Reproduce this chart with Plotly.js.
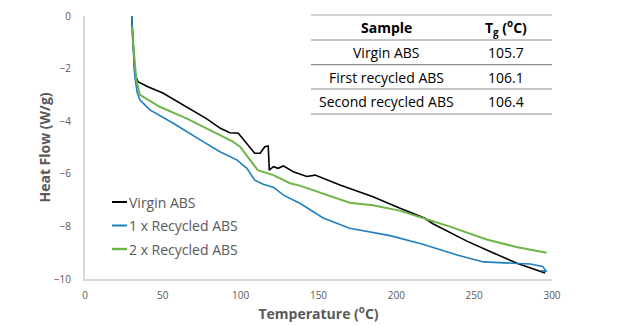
<!DOCTYPE html>
<html>
<head>
<meta charset="utf-8">
<script src="https://cdn.plot.ly/plotly-3.0.1.min.js"></script>
<style>html,body{margin:0;padding:0;background:#fff;}#chart{width:621px;height:326px;}</style>
</head>
<body>
<div id="chart"></div>
<script>
// Temperature (°C) and heat flow (W/g)
const virginT  = [30, 31, 32, 34, 40, 50, 65, 78, 87, 93, 98.5, 104, 109, 112.5, 115.5, 117.7, 118.4, 121, 124, 127.4, 133.8, 142.5, 147.8, 163.8, 170, 185, 202, 218, 223.5, 245, 262, 277.5, 295.5];
const virginHF = [0, -1.3, -2.2, -2.5, -2.68, -2.93, -3.45, -3.9, -4.27, -4.44, -4.46, -4.85, -5.22, -5.22, -4.97, -4.94, -5.86, -5.73, -5.79, -5.7, -5.92, -6.1, -6.05, -6.43, -6.55, -6.87, -7.3, -7.68, -7.9, -8.55, -9.0, -9.4, -9.77];

const rec1T  = [30, 31, 32, 33.5, 35.3, 41.7, 56.7, 74, 86.7, 97.5, 104, 109, 114.5, 121, 127.5, 138, 153, 170, 196, 217, 239, 256, 271, 286, 294, 296.5, 293];
const rec1HF = [0, -1.3, -2.3, -2.9, -3.2, -3.57, -4.08, -4.71, -5.16, -5.47, -5.79, -6.24, -6.4, -6.51, -6.81, -7.12, -7.68, -8.07, -8.35, -8.68, -9.09, -9.35, -9.39, -9.43, -9.52, -9.72, -9.68];

const rec2T  = [30, 31.5, 33, 35.3, 48, 65.5, 82, 95, 99.6, 106, 111, 121, 131.7, 138, 151, 159, 170, 185, 202, 217, 234, 258, 277, 296.5];
const rec2HF = [-0.4, -1.5, -2.43, -3.0, -3.45, -3.9, -4.4, -4.78, -4.97, -5.47, -5.86, -6.05, -6.36, -6.45, -6.72, -6.87, -7.1, -7.2, -7.4, -7.68, -8.0, -8.5, -8.78, -9.0];

const seriesNames = ['Virgin ABS', '1 x Recycled ABS', '2 x Recycled ABS'];
const tableHeader = ['Sample', 'T<sub>g</sub> (<sup>o</sup>C)'];
const tableSamples = ['Virgin ABS', 'First recycled ABS', 'Second recycled ABS'];
const tableTg = ['105.7', '106.1', '106.4'];

const colors = ['#000000', '#1f7fbf', '#6db548'];
const widths = [1.6, 1.6, 2];

const traces = [
  {x: virginT, y: virginHF, name: seriesNames[0], mode: 'lines', line: {color: colors[0], width: widths[0]}},
  {x: rec1T, y: rec1HF, name: seriesNames[1], mode: 'lines', line: {color: colors[1], width: widths[1]}},
  {x: rec2T, y: rec2HF, name: seriesNames[2], mode: 'lines', line: {color: colors[2], width: widths[2]}}
];

// geometry helpers (pixel -> paper)
const plotL = 85, plotR = 552, plotT = 16, plotB = 279;
const px = v => (v - plotL) / (plotR - plotL);
const py = v => (plotB - v) / (plotB - plotT);

// table
const x0 = 311, x1 = 552;
const lineYs = [15, 40, 64.7, 89, 114];
const rowYs = [28, 52.5, 77, 101.5];
const colX = [386, 506];

const shapes = lineYs.map((y, i) => ({
  type: 'line', xref: 'paper', yref: 'paper',
  x0: px(x0), x1: px(x1), y0: py(y), y1: py(y),
  line: {color: i === 0 ? '#a6a6a6' : '#8c8c8c', width: 1.2}
}));

const annotations = [];
const allRows = [tableHeader].concat(tableSamples.map((s, i) => [s, tableTg[i]]));
allRows.forEach((row, r) => {
  row.forEach((txt, c) => {
    annotations.push({
      xref: 'paper', yref: 'paper', x: px(colX[c]), y: py(rowYs[r]),
      text: r === 0 ? '<b>' + txt + '</b>' : txt,
      showarrow: false, xanchor: 'center', yanchor: 'middle',
      font: {family: 'Open Sans, sans-serif', size: 14, color: '#000'}
    });
  });
});

// legend (drawn manually to match the short key lines)
const legYs = [202, 225.5, 249];
seriesNames.forEach((name, i) => {
  shapes.push({
    type: 'line', xref: 'paper', yref: 'paper',
    x0: px(112), x1: px(127), y0: py(legYs[i]), y1: py(legYs[i]),
    line: {color: colors[i], width: widths[i] + 0.4}
  });
  annotations.push({
    xref: 'paper', yref: 'paper', x: px(127), y: py(legYs[i]),
    text: name, showarrow: false, xanchor: 'left', yanchor: 'middle',
    font: {family: 'Open Sans, sans-serif', size: 14, color: '#595959'}
  });
});

const layout = {
  width: 621, height: 326,
  margin: {l: 85, r: 69, t: 16, b: 47},
  paper_bgcolor: '#ffffff', plot_bgcolor: '#ffffff',
  font: {family: 'Open Sans, sans-serif', color: '#595959'},
  xaxis: {
    range: [0, 300], dtick: 50, tick0: 0,
    showgrid: false, zeroline: false,
    showline: true, linecolor: '#d9d9d9', linewidth: 2,
    ticks: 'outside', ticklen: 6, tickcolor: 'rgba(0,0,0,0)',
    tickfont: {size: 10, color: '#595959'},
    title: {text: '<b>Temperature (<sup>o</sup>C)</b>', font: {size: 14, color: '#595959'}, standoff: 8}
  },
  yaxis: {
    range: [-10, 0], dtick: 2,
    showgrid: false, zeroline: false,
    showline: true, linecolor: '#d9d9d9', linewidth: 2,
    ticks: 'outside', ticklen: 10, tickcolor: 'rgba(0,0,0,0)',
    tickfont: {size: 10, color: '#595959'},
    title: {text: '<b>Heat Flow (W/g)</b>', font: {size: 14, color: '#595959'}, standoff: 0}
  },
  showlegend: false,
  shapes: shapes,
  annotations: annotations
};

Plotly.newPlot('chart', traces, layout, {displayModeBar: false, staticPlot: true});
</script>
</body>
</html>
